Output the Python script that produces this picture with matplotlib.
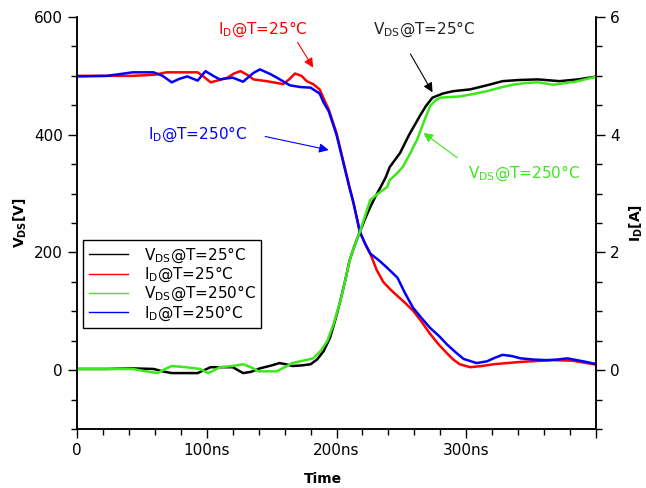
import numpy as np
import matplotlib
matplotlib.use("Agg")
import matplotlib.pyplot as plt
from matplotlib.lines import Line2D
from matplotlib.ticker import MultipleLocator, FixedLocator

# ---------------- datos ----------------
# I_D @ 25C (A)
t_id25 = [0, 23, 43, 52, 60, 69, 79, 93, 98, 103, 110, 116, 121, 126, 131, 136, 146, 159, 164, 168, 173, 177,
          182, 187, 190, 194, 200, 205, 210, 213, 218, 222, 226, 231, 236, 242, 247, 253, 259, 265, 272, 279,
          285, 290, 295, 303, 312, 321, 342, 367, 382, 401]
id25 = [5.0, 5.0, 5.0, 5.01, 5.02, 5.06, 5.06, 5.06, 4.98, 4.89, 4.93, 4.97, 5.04, 5.08, 5.02, 4.94, 4.91, 4.86,
        4.95, 5.04, 5.0, 4.91, 4.86, 4.77, 4.62, 4.43, 4.03, 3.57, 3.11, 2.85, 2.35, 2.15, 1.98, 1.7, 1.5, 1.36,
        1.26, 1.14, 1.01, 0.84, 0.62, 0.43, 0.29, 0.18, 0.1, 0.05, 0.07, 0.1, 0.14, 0.17, 0.16, 0.09]

# I_D @ 250C (A)
t_id250 = [0, 23, 43, 59, 66, 73, 79, 85, 93, 99, 105, 110, 120, 128, 136, 141, 149, 154, 164, 172, 180, 187,
           190, 194, 200, 205, 210, 213, 218, 222, 226, 233, 239, 247, 253, 259, 265, 272, 279, 285, 292, 298,
           308, 316, 322, 328, 335, 342, 352, 362, 370, 378, 390, 401]
id250 = [4.99, 5.0, 5.06, 5.06, 5.0, 4.89, 4.95, 4.99, 4.92, 5.08, 5.0, 4.94, 4.97, 4.9, 5.05, 5.11, 5.03, 4.97,
         4.84, 4.81, 4.8, 4.7, 4.55, 4.4, 4.0, 3.55, 3.1, 2.85, 2.35, 2.15, 1.98, 1.86, 1.74, 1.57, 1.3, 1.06,
         0.9, 0.72, 0.58, 0.44, 0.3, 0.19, 0.12, 0.15, 0.21, 0.26, 0.24, 0.2, 0.18, 0.17, 0.18, 0.2, 0.15, 0.1]

# V_DS @ 25C (V)
t_vds25 = [0, 23, 43, 59, 66, 73, 83, 93, 98, 103, 112, 120, 124, 128, 134, 141, 150, 156, 161, 166, 173,
           180, 185, 190, 195, 199, 203, 207, 210, 214, 218, 222, 226, 230, 234, 238, 241, 245, 249, 256,
           264, 269, 274, 282, 290, 303, 316, 328, 341, 355, 372, 386, 401]
vds25 = [2, 2, 3, 2, -2, -5, -5, -5, 0, 5, 5, 5, 0, -5, -3, 3, 8, 12, 10, 7, 8,
         10, 18, 32, 55, 85, 118, 155, 186, 212, 235, 257, 277, 295, 311, 328, 345, 357, 369, 400,
         431, 449, 463, 470, 474, 477, 484, 491, 493, 494, 491, 494, 499]

# V_DS @ 250C (V)
t_vds250 = [0, 23, 43, 53, 62, 68, 73, 84, 95, 101, 106, 110, 120, 128, 134, 140, 147, 154, 160, 166, 174,
            182, 188, 193, 198, 203, 207, 210, 214, 218, 222, 226, 232, 239, 241, 246, 251, 256, 262, 267,
            272, 276, 280, 287, 295, 305, 316, 326, 336, 346, 355, 367, 384, 401]
vds250 = [2, 2, 2, -2, -5, 2, 7, 5, 2, -5, 0, 5, 7, 10, 5, -2, -2, -2, 5, 12, 16,
          20, 33, 50, 80, 118, 155, 186, 212, 235, 262, 289, 300, 311, 323, 333, 345, 365, 391, 420,
          448, 458, 463, 464, 465, 469, 474, 480, 485, 488, 489, 485, 490, 499]

etiquetas = [r'V$_{\mathrm{DS}}$@T=25°C', r'I$_{\mathrm{D}}$@T=25°C',
             r'V$_{\mathrm{DS}}$@T=250°C', r'I$_{\mathrm{D}}$@T=250°C']
colores = ['black', '#ff0000', '#3de81a', '#0000ff']

# ---------------- figura ----------------
fig = plt.figure(figsize=(6.46, 4.88), dpi=100)
ax = fig.add_axes([77/646, 59/488, 519/646, 412/488])
ax2 = ax.twinx()

ax.plot(t_vds25, vds25, color=colores[0], lw=1.8)
ax.plot(t_vds250, vds250, color=colores[2], lw=1.8)
ax2.plot(t_id25, id25, color=colores[1], lw=1.8)
ax2.plot(t_id250, id250, color=colores[3], lw=1.8)

ax.set_xlim(0, 400)
ax.set_ylim(-100, 600)
ax2.set_ylim(-1, 6)

ax.xaxis.set_major_locator(FixedLocator([0, 100, 200, 300, 400]))
ax.set_xticklabels(['0', '100ns', '200ns', '300ns', ''])
ax.xaxis.set_minor_locator(MultipleLocator(20))
ax.yaxis.set_major_locator(FixedLocator([0, 200, 400, 600]))
ax.yaxis.set_minor_locator(MultipleLocator(50))
ax2.yaxis.set_major_locator(FixedLocator([0, 2, 4, 6]))
ax2.yaxis.set_minor_locator(MultipleLocator(0.5))

for a in (ax, ax2):
    a.spines['top'].set_visible(False)
    for s in a.spines.values():
        s.set_linewidth(1.1)
    a.tick_params(which='major', direction='out', length=6.5, width=1.0, labelsize=11)
    a.tick_params(which='minor', direction='out', length=4, width=1.0)

ax.set_xlabel('Time', fontsize=10, fontweight='bold')
ax.xaxis.set_label_coords(0.474, -0.105)
ax.set_ylabel(r'V$_{\mathbf{DS}}$[V]', fontsize=10, fontweight='bold', labelpad=4)
ax2.set_ylabel(r'I$_{\mathbf{D}}$[A]', fontsize=10, fontweight='bold', rotation=90, labelpad=6)

# textos y flechas
flecha = dict(arrowstyle='-|>', lw=0.8, mutation_scale=14, shrinkA=0, shrinkB=0)
ax2.text(109, 5.79, etiquetas[1], color=colores[1], fontsize=11, va='center')
ax2.annotate('', xy=(182, 5.14), xytext=(170, 5.57), arrowprops=dict(flecha, color=colores[1]))
ax2.text(55, 4.0, etiquetas[3], color=colores[3], fontsize=11, va='center')
ax2.annotate('', xy=(194, 3.74), xytext=(145, 3.97), arrowprops=dict(flecha, color=colores[3]))
ax.text(228, 579, etiquetas[0], color='#222222', fontsize=11, va='center')
ax.annotate('', xy=(274, 472), xytext=(257, 537), arrowprops=dict(flecha, color='black'))
ax.text(301, 335, etiquetas[2], color=colores[2], fontsize=11, va='center')
ax.annotate('', xy=(267, 403), xytext=(293, 361), arrowprops=dict(flecha, color=colores[2]))

# leyenda
handles = [Line2D([], [], color=c, lw=1.0) for c in colores]
leg = ax.legend(handles, etiquetas, loc='upper left', bbox_to_anchor=(0.012, 0.459),
                borderaxespad=0, fontsize=11, frameon=True, fancybox=False,
                handlelength=2.6, labelspacing=0.0, borderpad=0.35, handletextpad=1.0)
leg.get_frame().set_edgecolor('black')
leg.get_frame().set_linewidth(1.0)
leg.get_frame().set_alpha(1)
leg.set_zorder(10)
ax.set_zorder(ax2.get_zorder() + 1)
ax.patch.set_visible(False)

fig.savefig('out.png', dpi=100)
